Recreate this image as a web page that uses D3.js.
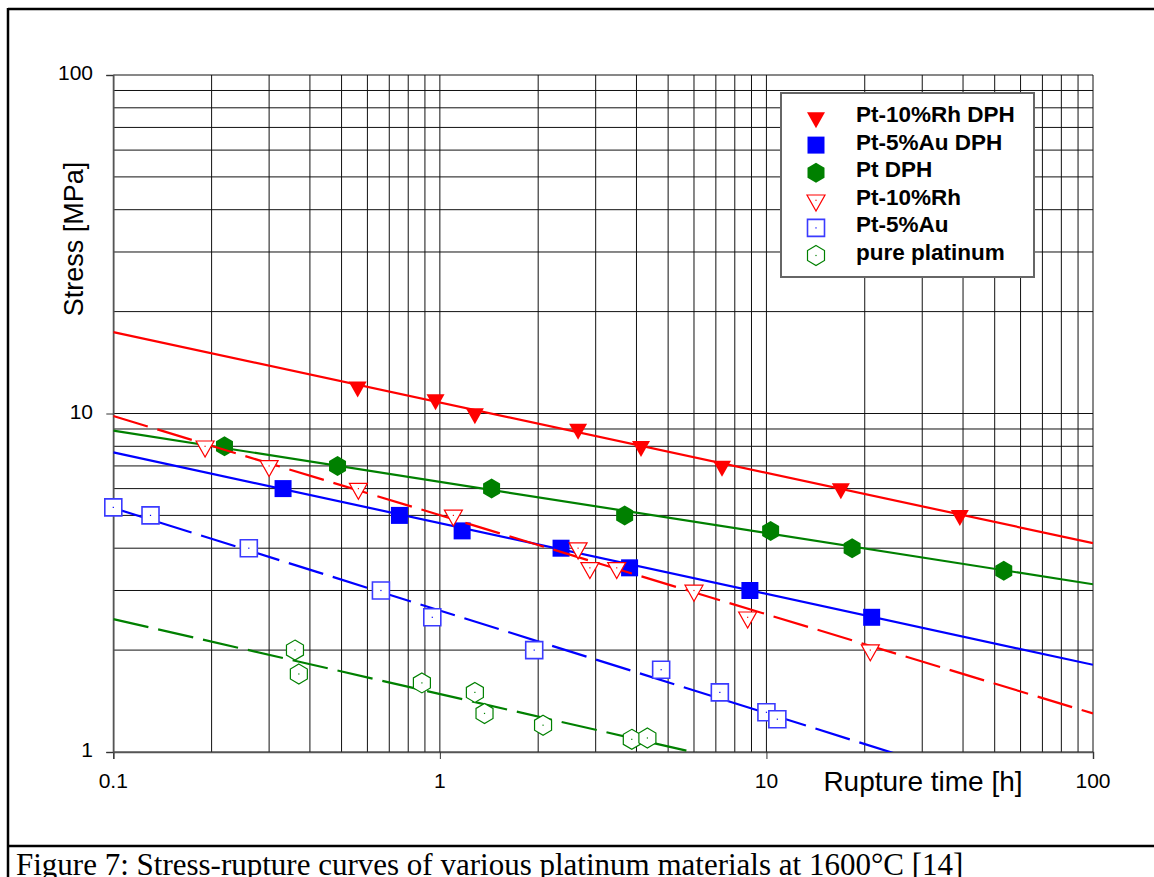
<!DOCTYPE html>
<html>
<head>
<meta charset="utf-8">
<script src="https://cdn.jsdelivr.net/npm/d3@7"></script>
<style>
  body { margin: 0; background: #fff; }
  svg { display: block; }
</style>
</head>
<body>
<svg id="canvas" width="1154" height="877"></svg>
<script>
// series names, in legend order
let seriesNames = ['Pt-10%Rh DPH', 'Pt-5%Au DPH', 'Pt DPH', 'Pt-10%Rh', 'Pt-5%Au', 'pure platinum']

// rupture time [h] and stress [MPa]
let rhDphTime = [0.56, 0.97, 1.28, 2.65, 4.13, 7.31, 16.9, 39.1]
let rhDphStress = [12, 11, 10, 9, 8, 7, 6, 5]

let auDphTime = [0.331, 0.752, 1.17, 2.35, 3.81, 8.9, 21.0]
let auDphStress = [6, 5, 4.5, 4, 3.5, 3, 2.5]

let ptDphTime = [0.219, 0.486, 1.44, 3.68, 10.3, 18.3, 53.3]
let ptDphStress = [8, 7, 6, 5, 4.5, 4, 3.43]

let rhTime = [0.191, 0.300, 0.563, 1.10, 2.65, 2.88, 3.48, 6.0, 8.76, 20.8]
let rhStress = [8, 7, 6, 5, 4, 3.5, 3.5, 3, 2.5, 2]

let auTime = [0.1, 0.130, 0.260, 0.660, 0.948, 1.945, 4.76, 7.2, 10.0, 10.8]
let auStress = [5.28, 5, 4, 3, 2.5, 2, 1.75, 1.5, 1.31, 1.25]

let ptTime = [0.360, 0.370, 0.881, 1.28, 1.37, 2.07, 3.87, 4.32]
let ptStress = [2, 1.7, 1.6, 1.5, 1.3, 1.2, 1.09, 1.1]

// power-law trend lines: stress at 0.1 h and at 100 h
let trendAt01 = [17.4, 7.68, 8.9, 9.83, 5.26, 2.47]
let trendAt100 = [4.14, 1.81, 3.13, 1.30, 0.648, 0.535]

let xTickValues = [0.1, 1, 10, 100]
let yTickValues = [1, 10, 100]

let colors = ['#ff0000', '#0000ff', '#008000', '#ff0000', '#0000ff', '#008000']
let markerKind = ['tri', 'sq', 'hex', 'tri', 'sq', 'hex']
let filled = [true, true, true, false, false, false]

let seriesTime = [rhDphTime, auDphTime, ptDphTime, rhTime, auTime, ptTime]
let seriesStress = [rhDphStress, auDphStress, ptDphStress, rhStress, auStress, ptStress]

let canvas = d3.select('#canvas')

let plotLeft = 113.3, plotRight = 1093, plotTop = 75, plotBottom = 752

let xScale = d3.scaleLog().domain([0.1, 100]).range([plotLeft, plotRight])
let yScale = d3.scaleLog().domain([1, 100]).range([plotBottom, plotTop])

// outer frame and caption
canvas.append('line').attr('x1', 8).attr('y1', 9).attr('x2', 1160).attr('y2', 9)
    .attr('stroke', '#000').attr('stroke-width', 2.5)
canvas.append('line').attr('x1', 8).attr('y1', 8).attr('x2', 8).attr('y2', 877)
    .attr('stroke', '#000').attr('stroke-width', 2.5)
canvas.append('line').attr('x1', 8).attr('y1', 846).attr('x2', 1160).attr('y2', 846)
    .attr('stroke', '#000').attr('stroke-width', 2.5)

canvas.append('text')
    .text('Figure 7: Stress-rupture curves of various platinum materials at 1600°C [14]')
    .attr('x', 16)
    .attr('y', 875)
    .attr('font-family', '"Liberation Serif", "Times New Roman", serif')
    .attr('font-size', 31)
    .attr('fill', '#000')

// grid
let xGrid = []
let yGrid = []
for (let d = 0.1; d < 99; d *= 10) {
    for (let k = 1; k <= 9; k++) xGrid.push(k * d)
}
xGrid.push(100)
for (let d = 1; d < 99; d *= 10) {
    for (let k = 1; k <= 9; k++) yGrid.push(k * d)
}
yGrid.push(100)

let grid = canvas.append('g')
grid.selectAll('.vg')
    .data(xGrid)
    .enter()
    .append('line')
    .attr('class', 'vg')
    .attr('x1', (v) => xScale(v)).attr('x2', (v) => xScale(v))
    .attr('y1', plotTop).attr('y2', plotBottom)
    .attr('stroke', '#111').attr('stroke-width', 1)
grid.selectAll('.hg')
    .data(yGrid)
    .enter()
    .append('line')
    .attr('class', 'hg')
    .attr('y1', (v) => yScale(v)).attr('y2', (v) => yScale(v))
    .attr('x1', plotLeft).attr('x2', plotRight)
    .attr('stroke', '#111').attr('stroke-width', 1)

// axes
let xAxis = d3.axisBottom(xScale).tickValues(xTickValues).tickSize(7).tickFormat('')
let yAxis = d3.axisLeft(yScale).tickValues(yTickValues).tickSize(7).tickFormat('')
canvas.append('g').attr('transform', 'translate(0,' + plotBottom + ')').call(xAxis)
    .call((g) => g.select('.domain').attr('stroke', '#555').attr('stroke-width', 1.5))
    .call((g) => g.selectAll('.tick line').attr('stroke', '#333'))
canvas.append('g').attr('transform', 'translate(' + plotLeft + ',0)').call(yAxis)
    .call((g) => g.select('.domain').attr('stroke', '#555').attr('stroke-width', 1.5))
    .call((g) => g.selectAll('.tick line').attr('stroke', '#333'))

let sans = '"Liberation Sans", Arial, sans-serif'

canvas.selectAll('.xlab')
    .data(xTickValues)
    .enter()
    .append('text')
    .attr('class', 'xlab')
    .text((v) => String(v))
    .attr('x', (v) => xScale(v))
    .attr('y', 788)
    .attr('text-anchor', 'middle')
    .attr('font-family', sans)
    .attr('font-size', 21)

canvas.selectAll('.ylab')
    .data(yTickValues)
    .enter()
    .append('text')
    .attr('class', 'ylab')
    .text((v) => String(v))
    .attr('x', 93)
    .attr('y', (v) => yScale(v) + 5)
    .attr('text-anchor', 'end')
    .attr('font-family', sans)
    .attr('font-size', 21)

canvas.append('text')
    .text('Rupture time [h]')
    .attr('x', 923)
    .attr('y', 791)
    .attr('text-anchor', 'middle')
    .attr('font-family', sans)
    .attr('font-size', 28)

canvas.append('text')
    .text('Stress [MPa]')
    .attr('transform', 'translate(83,239) rotate(-90)')
    .attr('text-anchor', 'middle')
    .attr('font-family', sans)
    .attr('font-size', 27)

// markers
let markerPath = (kind) => {
    if (kind === 'tri') return 'M-9,-5.3L9,-5.3L0,10.7Z'
    if (kind === 'sq') return 'M-8.5,-8.5L8.5,-8.5L8.5,8.5L-8.5,8.5Z'
    return 'M0,-10L8.5,-5L8.5,5L0,10L-8.5,5L-8.5,-5Z'
}

let drawMarker = (g, i) => {
    g.append('path')
        .attr('d', markerPath(markerKind[i]))
        .attr('fill', filled[i] ? colors[i] : '#fff')
        .attr('stroke', filled[i] ? 'none' : (i === 4 ? '#3a3aff' : colors[i]))
        .attr('stroke-width', i === 4 ? 1.6 : 1.2)
    if (!filled[i]) {
        g.append('rect')
            .attr('x', -0.6).attr('y', -0.6).attr('width', 1.2).attr('height', 1.2)
            .attr('fill', colors[i])
    }
}

canvas.append('clipPath').attr('id', 'plotclip')
    .append('rect').attr('x', plotLeft).attr('y', plotTop)
    .attr('width', plotRight - plotLeft).attr('height', plotBottom - plotTop)

let trendLine = d3.line()
    .x((p) => xScale(p[0]))
    .y((p) => yScale(p[1]))

// each series: trend line first, then its markers
seriesNames.forEach((name, i) => {
    let layer = canvas.append('g')
    layer.append('path')
        .attr('clip-path', 'url(#plotclip)')
        .attr('d', trendLine([[0.1, trendAt01[i]], [100, trendAt100[i]]]))
        .attr('fill', 'none')
        .attr('stroke', colors[i])
        .attr('stroke-width', 2.2)
        .attr('stroke-dasharray', filled[i] ? null : '36,10')

    let pts = seriesTime[i].map((t, j) => [t, seriesStress[i][j]])
    pts.forEach((p) => {
        let g = layer.append('g')
            .attr('transform', 'translate(' + xScale(p[0]) + ',' + yScale(p[1]) + ')')
        drawMarker(g, i)
    })
})

// legend
let legend = canvas.append('g')
legend.append('rect')
    .attr('x', 781).attr('y', 93).attr('width', 253).attr('height', 184)
    .attr('fill', '#fff').attr('stroke', '#666').attr('stroke-width', 2)

seriesNames.forEach((name, i) => {
    let baseY = 122 + i * 27.6
    let g = legend.append('g').attr('transform', 'translate(816,' + (baseY - 4.5) + ')')
    drawMarker(g, i)
    legend.append('text')
        .text(name)
        .attr('x', 856)
        .attr('y', baseY)
        .attr('font-family', sans)
        .attr('font-weight', 'bold')
        .attr('font-size', 22.5)
})
</script>
</body>
</html>
